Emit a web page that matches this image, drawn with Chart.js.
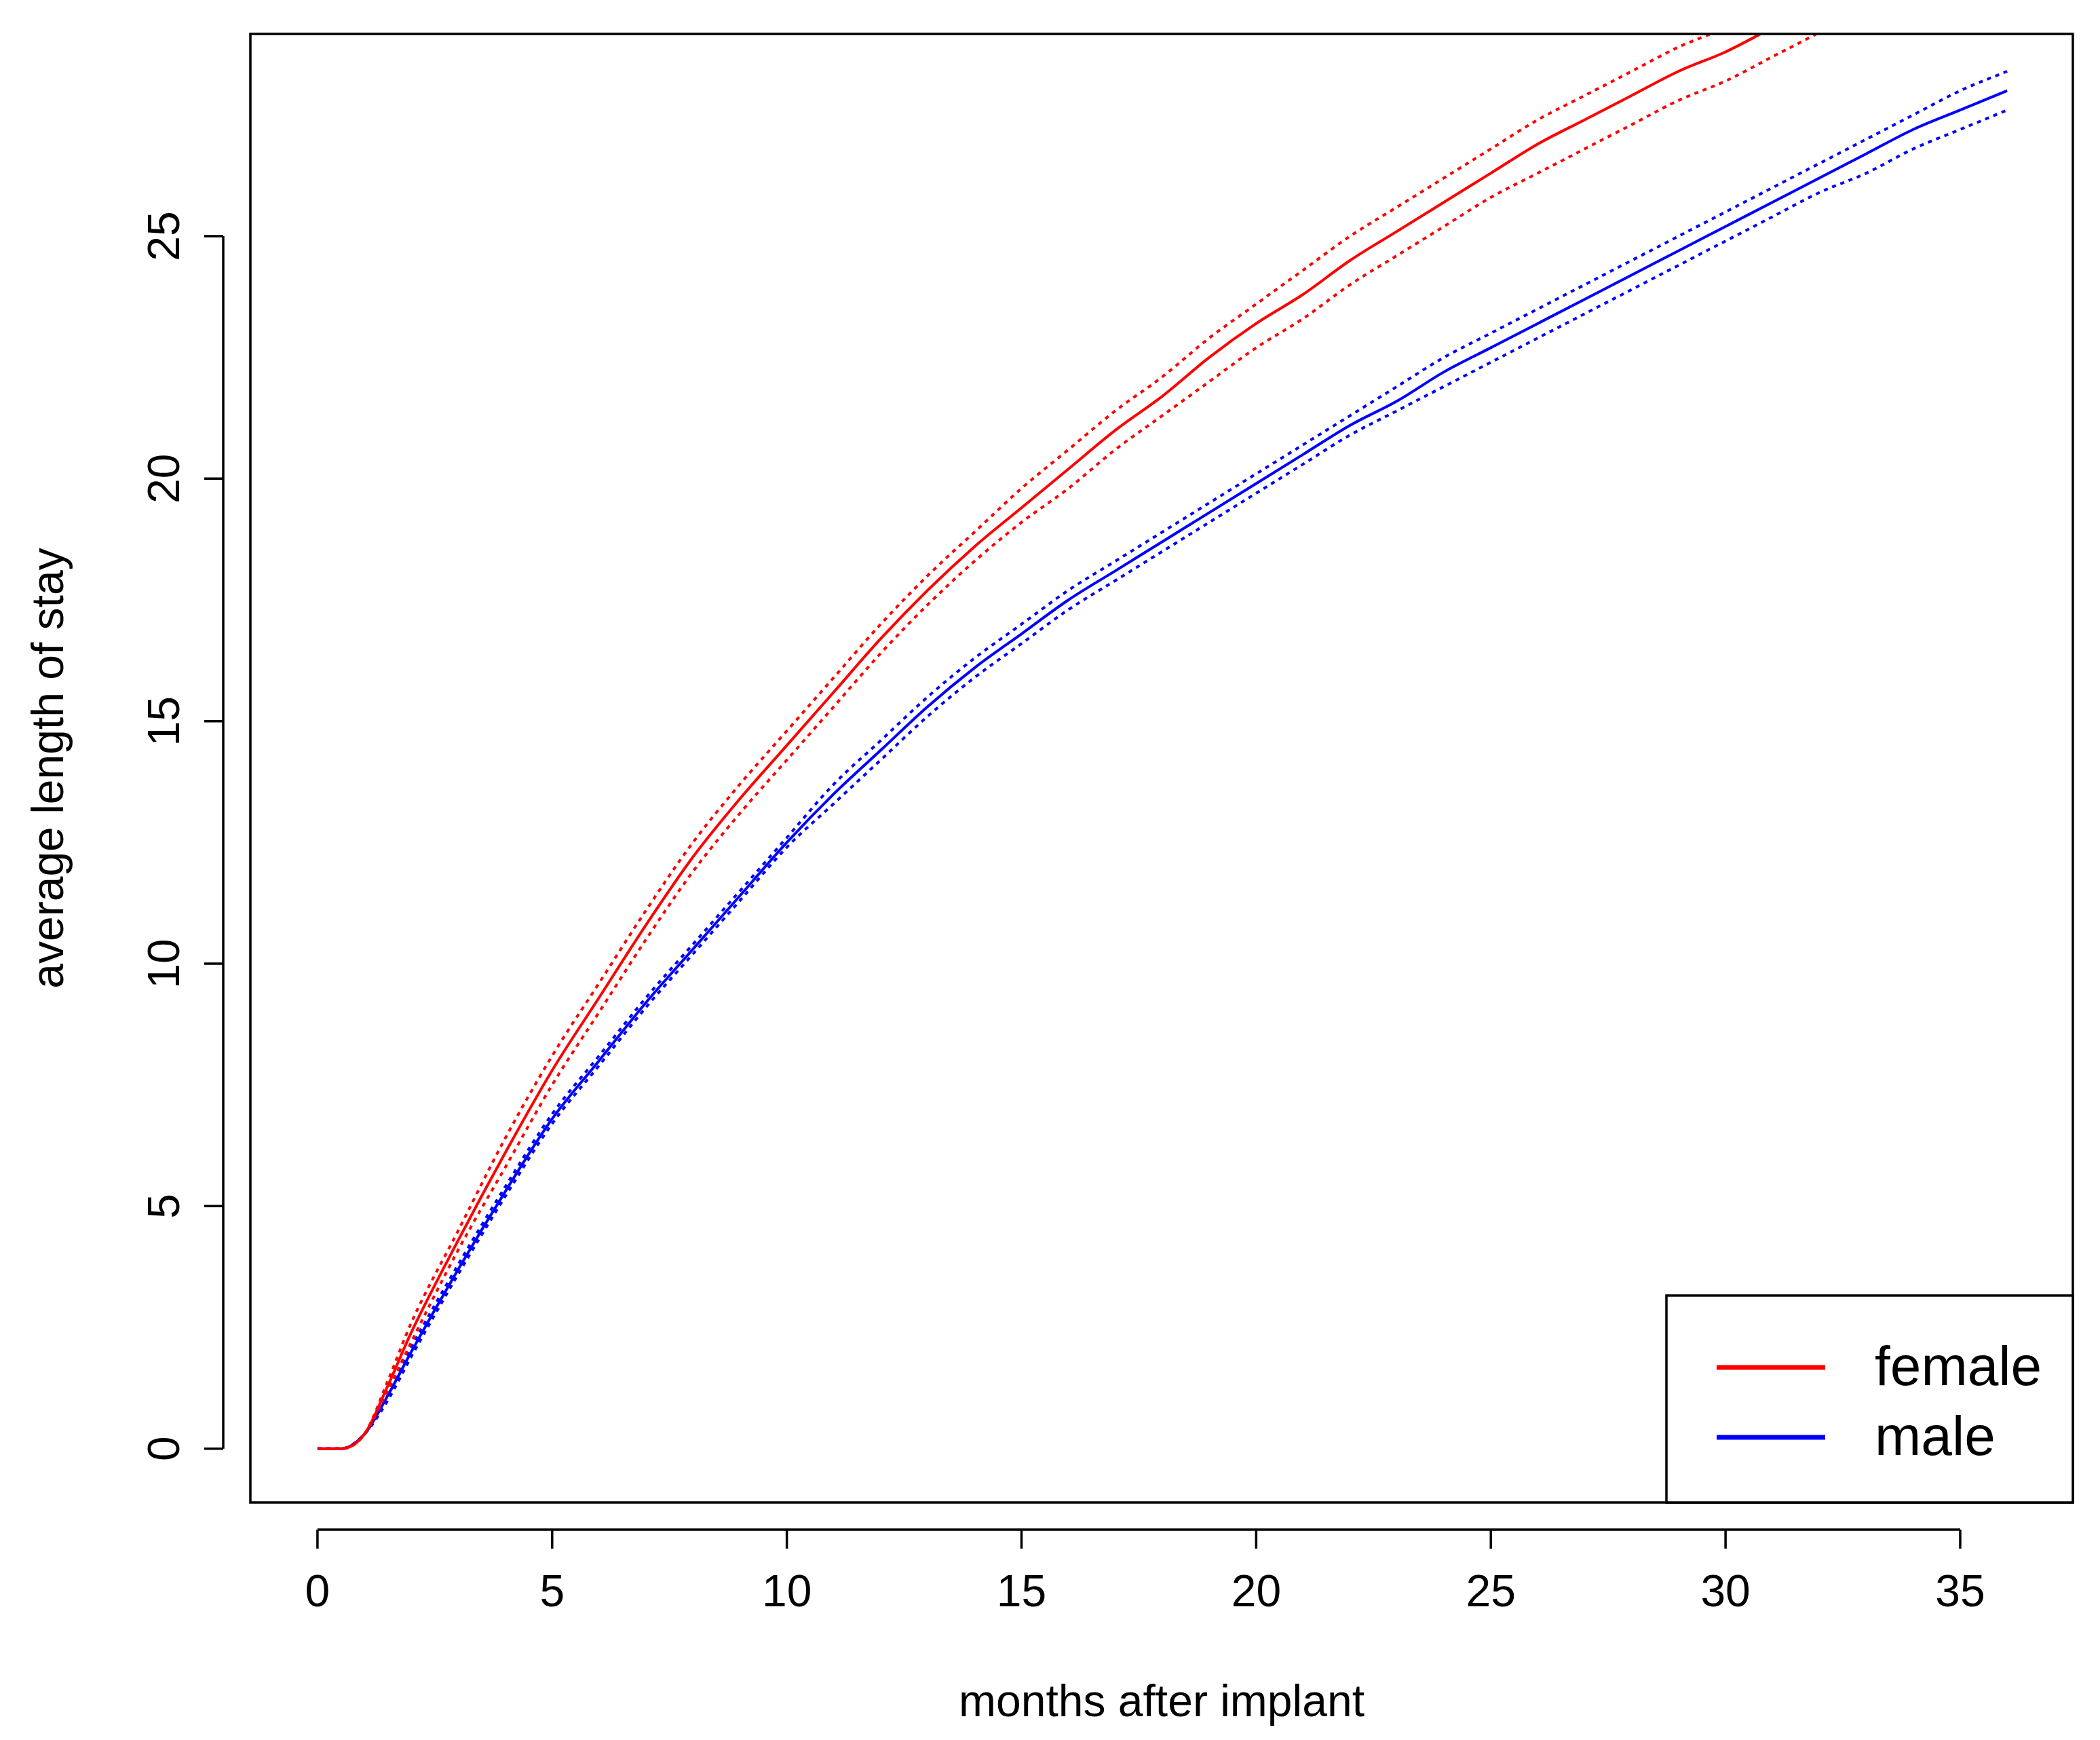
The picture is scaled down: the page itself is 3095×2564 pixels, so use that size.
<!DOCTYPE html>
<html>
<head>
<meta charset="utf-8">
<script src="https://cdn.jsdelivr.net/npm/chart.js@4.4.0/dist/chart.umd.min.js"></script>
<style>
  html, body { margin: 0; padding: 0; background: #fff; }
  #wrap { width: 3095px; height: 2564px; }
</style>
</head>
<body>
<div id="wrap"><canvas id="c" width="3095" height="2564"></canvas></div>
<script>
// months after implant
const months = [0, 0.5, 1, 1.5, 2, 3, 4, 5, 6, 7, 8, 9, 10, 11, 12, 13, 14, 15, 16, 17, 18,
  19, 20, 21, 22, 23, 24, 25, 26, 27, 28, 29, 30, 31, 32, 33, 34, 35, 36];

const femaleMean = [0, 0, 0.3, 1.3, 2.4, 4.3, 6.1, 7.8, 9.3, 10.8, 12.2, 13.4, 14.5, 15.6, 16.7, 17.7, 18.6, 19.4, 20.2, 21.0, 21.7,
  22.5, 23.2, 23.8, 24.5, 25.1, 25.7, 26.3, 26.9, 27.4, 27.9, 28.4, 28.8, 29.3, 29.8, 30.3, 30.8, 31.3, 31.8];
const femaleHigh = [0, 0, 0.3, 1.4, 2.6, 4.5, 6.4, 8.1, 9.6, 11.1, 12.5, 13.7, 14.8, 15.9, 17.0, 18.0, 18.9, 19.8, 20.6, 21.4, 22.1,
  22.9, 23.6, 24.3, 25.0, 25.6, 26.2, 26.8, 27.4, 27.9, 28.4, 28.9, 29.3, 29.8, 30.3, 30.8, 31.3, 31.8, 32.3];
const femaleLow = [0, 0, 0.3, 1.2, 2.2, 4.1, 5.8, 7.5, 9.0, 10.5, 11.9, 13.1, 14.2, 15.3, 16.4, 17.4, 18.3, 19.1, 19.8, 20.6, 21.3,
  22.0, 22.7, 23.3, 24.0, 24.6, 25.2, 25.8, 26.3, 26.8, 27.3, 27.8, 28.2, 28.7, 29.2, 29.7, 30.2, 30.7, 31.2];

const maleMean = [0, 0, 0.3, 1.1, 2.0, 3.7, 5.3, 6.8, 8.0, 9.2, 10.3, 11.4, 12.5, 13.5, 14.4, 15.3, 16.1, 16.8, 17.5, 18.1, 18.7,
  19.3, 19.9, 20.5, 21.1, 21.6, 22.2, 22.7, 23.2, 23.7, 24.2, 24.7, 25.2, 25.7, 26.2, 26.7, 27.2, 27.6, 28.0];
const maleHigh = [0, 0, 0.3, 1.2, 2.1, 3.8, 5.4, 6.9, 8.1, 9.3, 10.4, 11.5, 12.6, 13.7, 14.6, 15.5, 16.3, 17.0, 17.7, 18.3, 18.9,
  19.5, 20.1, 20.7, 21.3, 21.9, 22.5, 23.0, 23.5, 24.0, 24.5, 25.0, 25.5, 26.0, 26.5, 27.0, 27.5, 28.0, 28.4];
const maleLow = [0, 0, 0.3, 1.0, 1.9, 3.6, 5.2, 6.7, 7.9, 9.1, 10.2, 11.3, 12.4, 13.3, 14.2, 15.1, 15.9, 16.6, 17.3, 17.9, 18.5,
  19.1, 19.7, 20.3, 20.9, 21.4, 21.9, 22.4, 22.9, 23.4, 23.9, 24.4, 24.9, 25.4, 25.9, 26.3, 26.8, 27.2, 27.6];

const xTicks = [0, 5, 10, 15, 20, 25, 30, 35];
const yTicks = [0, 5, 10, 15, 20, 25];

const pts = arr => months.map((m, i) => ({ x: m, y: arr[i] }));
const FONT = '"Liberation Sans", Arial, sans-serif';

function series(arr, color, dashed) {
  return {
    data: pts(arr), borderColor: color, borderWidth: 4, pointRadius: 0,
    cubicInterpolationMode: 'monotone', borderDash: dashed ? [6, 7] : []
  };
}

// R-style axes, box and legend
const rAxes = {
  id: 'rAxes',
  afterDraw(chart) {
    const ctx = chart.ctx, a = chart.chartArea;
    const xs = chart.scales.x, ys = chart.scales.y;
    ctx.save();
    ctx.strokeStyle = '#000';
    ctx.lineWidth = 3.5;
    ctx.strokeRect(a.left, a.top, a.right - a.left, a.bottom - a.top);
    ctx.fillStyle = '#000';
    ctx.font = '66px ' + FONT;

    // x axis
    const xl = a.bottom + 40;
    ctx.beginPath();
    ctx.moveTo(xs.getPixelForValue(xTicks[0]), xl);
    ctx.lineTo(xs.getPixelForValue(xTicks[xTicks.length - 1]), xl);
    xTicks.forEach(t => {
      const p = xs.getPixelForValue(t);
      ctx.moveTo(p, xl); ctx.lineTo(p, xl + 28);
    });
    ctx.stroke();
    ctx.textAlign = 'center'; ctx.textBaseline = 'top';
    xTicks.forEach(t => ctx.fillText(String(t), xs.getPixelForValue(t), xl + 62));
    ctx.fillText('months after implant', (a.left + a.right) / 2, 2478);

    // y axis
    const yl = a.left - 40;
    ctx.beginPath();
    ctx.moveTo(yl, ys.getPixelForValue(yTicks[0]));
    ctx.lineTo(yl, ys.getPixelForValue(yTicks[yTicks.length - 1]));
    yTicks.forEach(t => {
      const p = ys.getPixelForValue(t);
      ctx.moveTo(yl, p); ctx.lineTo(yl - 28, p);
    });
    ctx.stroke();
    ctx.textAlign = 'center'; ctx.textBaseline = 'bottom';
    yTicks.forEach(t => {
      ctx.save();
      ctx.translate(yl - 50, ys.getPixelForValue(t));
      ctx.rotate(-Math.PI / 2);
      ctx.fillText(String(t), 0, 0);
      ctx.restore();
    });
    ctx.save();
    ctx.translate(108, (a.top + a.bottom) / 2);
    ctx.rotate(-Math.PI / 2);
    ctx.fillText('average length of stay', 0, 0);
    ctx.restore();

    // legend
    const lx = 2456, ly = 1909, lw = a.right - lx, lh = a.bottom - ly;
    ctx.fillStyle = '#fff';
    ctx.fillRect(lx, ly, lw, lh);
    ctx.strokeRect(lx, ly, lw, lh);
    ctx.font = '82px ' + FONT;
    ctx.textAlign = 'left'; ctx.textBaseline = 'middle';
    [['female', 'red', 2015], ['male', 'blue', 2118]].forEach(([lab, col, y]) => {
      ctx.strokeStyle = col; ctx.lineWidth = 7;
      ctx.beginPath(); ctx.moveTo(2530, y); ctx.lineTo(2690, y); ctx.stroke();
      ctx.fillStyle = '#000';
      ctx.fillText(lab, 2763, y + 3);
    });
    ctx.restore();
  }
};

new Chart(document.getElementById('c').getContext('2d'), {
  type: 'line',
  data: {
    datasets: [
      series(femaleHigh, 'red', true),
      series(femaleLow, 'red', true),
      series(femaleMean, 'red', false),
      series(maleHigh, 'blue', true),
      series(maleLow, 'blue', true),
      series(maleMean, 'blue', false)
    ]
  },
  options: {
    responsive: false,
    animation: false,
    layout: { padding: { left: 369, right: 40, top: 50, bottom: 350 } },
    plugins: { legend: { display: false }, tooltip: { enabled: false } },
    scales: {
      x: { type: 'linear', min: -1.43, max: 37.4, display: false },
      y: { type: 'linear', min: -1.11, max: 29.17, display: false }
    }
  },
  plugins: [rAxes]
});
</script>
</body>
</html>
